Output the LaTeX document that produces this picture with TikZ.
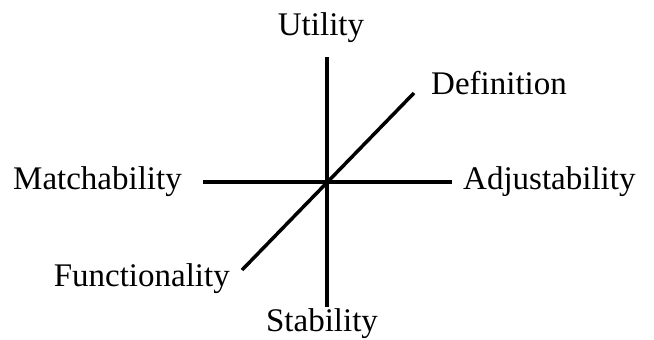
\documentclass[tikz,border=0pt]{standalone}
\usepackage{fontspec,tikz}
\setmainfont{Liberation Serif}

\tikzset{
  axislabel/.style={inner sep=0pt,font=\fontsize{33.0}{39.6}\selectfont},
  axisline/.style={line width=3.5pt}
}

\begin{document}
\begin{tikzpicture}[x=1pt,y=-1pt]
\path[use as bounding box] (0,0) rectangle (654.0,340.0);
% axis ends
\coordinate (top) at (327,57);
\coordinate (bottom) at (327,307);
\coordinate (left) at (203,182);
\coordinate (right) at (452,182);
\coordinate (upper) at (414,93);
\coordinate (lower) at (242,270);
\draw[axisline] (top) -- (bottom);
\draw[axisline] (left) -- (right);
\draw[axisline] (lower) -- (upper);
% labels
\node[axislabel,anchor=base] (utility) at (321,35) {Utility};
\node[axislabel,anchor=base] (stability) at (322,331) {Stability};
\node[axislabel,anchor=base east] (matchability) at (182,189) {Matchability};
\node[axislabel,anchor=base west] (adjustability) at (463,189) {Adjustability};
\node[axislabel,anchor=base west] (definition) at (431,94) {Definition};
\node[axislabel,anchor=base east] (functionality) at (230,286) {Functionality};
\end{tikzpicture}
\end{document}
